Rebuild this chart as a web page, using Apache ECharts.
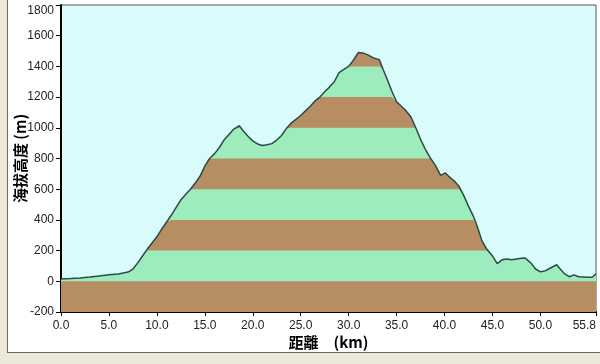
<!DOCTYPE html>
<html>
<head>
<meta charset="utf-8">
<script src="https://cdn.jsdelivr.net/npm/echarts@6/dist/echarts.min.js"></script>
<style>
html,body{margin:0;padding:0;background:#ECE9D8;}
#panel{position:absolute;left:7px;top:0;width:593px;height:352px;background:#fff;border-left:1px solid #6a6a6a;border-bottom:1px solid #6a6a6a;}
#chart{position:absolute;left:0;top:0;width:600px;height:364px;}
</style>
</head>
<body>
<div id="panel"></div>
<div id="chart"></div>
<script>
// distance along route (km)
const distKm = [0.0,1.0,2.0,3.0,4.0,5.0,6.0,7.0,7.5,8.0,8.5,9.0,9.5,10.0,10.5,11.0,11.5,12.0,12.5,13.0,13.5,14.0,14.5,15.0,15.5,16.0,16.5,17.0,17.5,18.0,18.6,19.0,19.5,20.0,20.5,21.0,21.5,22.0,22.5,23.0,23.5,24.0,24.5,25.0,25.5,26.0,26.5,27.0,27.5,28.0,28.5,29.0,29.5,30.0,30.5,31.0,31.2,31.6,32.0,32.6,33.2,33.6,34.0,34.5,35.0,35.5,36.0,36.5,37.0,37.5,38.0,38.5,39.0,39.6,40.1,40.5,41.0,41.5,42.0,42.5,43.0,43.4,43.9,44.4,45.0,45.5,46.0,46.5,47.0,47.5,48.0,48.4,49.0,49.5,50.0,50.5,51.0,51.7,52.0,52.5,53.0,53.5,54.0,54.5,55.0,55.4,55.8];
// elevation (m)
const elevM = [15,18,22,28,35,42,48,60,80,120,165,210,250,290,340,385,430,480,530,565,600,640,684,750,800,830,870,920,955,990,1014,980,945,915,895,885,890,897,920,950,995,1030,1055,1080,1110,1140,1175,1200,1235,1265,1300,1360,1380,1400,1440,1490,1498,1485,1475,1455,1444,1380,1320,1240,1170,1140,1110,1070,1000,925,860,805,760,690,706,680,655,620,560,490,425,360,265,210,165,115,140,146,140,145,150,152,120,80,62,68,85,108,85,50,30,42,30,28,26,26,48];
// y axis ticks
const yMin = -200, yMax = 1800, yStep = 200;
// x axis tick labels
const xTicks = [0,5,10,15,20,25,30,35,40,45,50,55.8];

const BROWN = '#B78D63', GREEN = '#9CECBE', SKY = '#D9FBFC';
const LABEL_FONT = "'Liberation Sans', Arial, sans-serif";
const CJK_FONT = "'Noto Sans CJK TC', 'Noto Sans CJK SC', sans-serif";

const series = [];
// band layers: draw highest band first, lower ones painted over
for (let i = 8; i >= 0; i--) {
  const top = i * 200;
  series.push({
    type: 'line',
    data: distKm.map((d, k) => [d, Math.min(elevM[k], top)]),
    symbol: 'none',
    lineStyle: { width: 0 },
    areaStyle: { origin: 'start', color: (i % 2 === 0) ? BROWN : GREEN, opacity: 1 },
    silent: true,
    animation: false
  });
}
series.push({
  type: 'line',
  data: distKm.map((d, k) => [d, elevM[k]]),
  symbol: 'none',
  lineStyle: { color: '#2E4A44', width: 1.5 },
  animation: false
});

const chart = echarts.init(document.getElementById('chart'), null, { renderer: 'canvas' });
chart.setOption({
  animation: false,
  grid: { left: 61, right: 4, top: 5, bottom: 52, outerBoundsMode: 'none', containLabel: false, show: true, backgroundColor: SKY, borderColor: '#555', borderWidth: 1 },
  xAxis: {
    type: 'value', min: 0, max: 55.8,
    name: '距離　(km)', nameLocation: 'middle', nameGap: 23, nameMoveOverlap: false,
    nameTextStyle: { fontFamily: CJK_FONT, fontSize: 15, color: '#000', fontWeight: 'bold' },
    axisLine: { show: true, onZero: false, lineStyle: { color: '#000', width: 2 } },
    axisTick: { show: true, length: 4, lineStyle: { color: '#000' }, customValues: xTicks },
    axisLabel: { customValues: xTicks, formatter: v => v.toFixed(1), fontFamily: LABEL_FONT, fontSize: 12, color: '#222', margin: 8, alignMaxLabel: 'right' },
    splitLine: { show: false }
  },
  yAxis: {
    type: 'value', min: yMin, max: yMax, interval: yStep,
    name: '海拔高度 (m)', nameLocation: 'middle', nameGap: 33, nameRotate: 90, nameMoveOverlap: false,
    nameTextStyle: { fontFamily: CJK_FONT, fontSize: 15, color: '#000', fontWeight: 'bold' },
    axisLine: { show: true, onZero: false, lineStyle: { color: '#000', width: 2 } },
    axisTick: { show: true, length: 5, lineStyle: { color: '#000' } },
    axisLabel: { formatter: v => String(v), fontFamily: LABEL_FONT, fontSize: 12, color: '#222', margin: 7, verticalAlignMaxLabel: 'top' },
    splitLine: { show: false }
  },
  series: series
});
</script>
</body>
</html>
